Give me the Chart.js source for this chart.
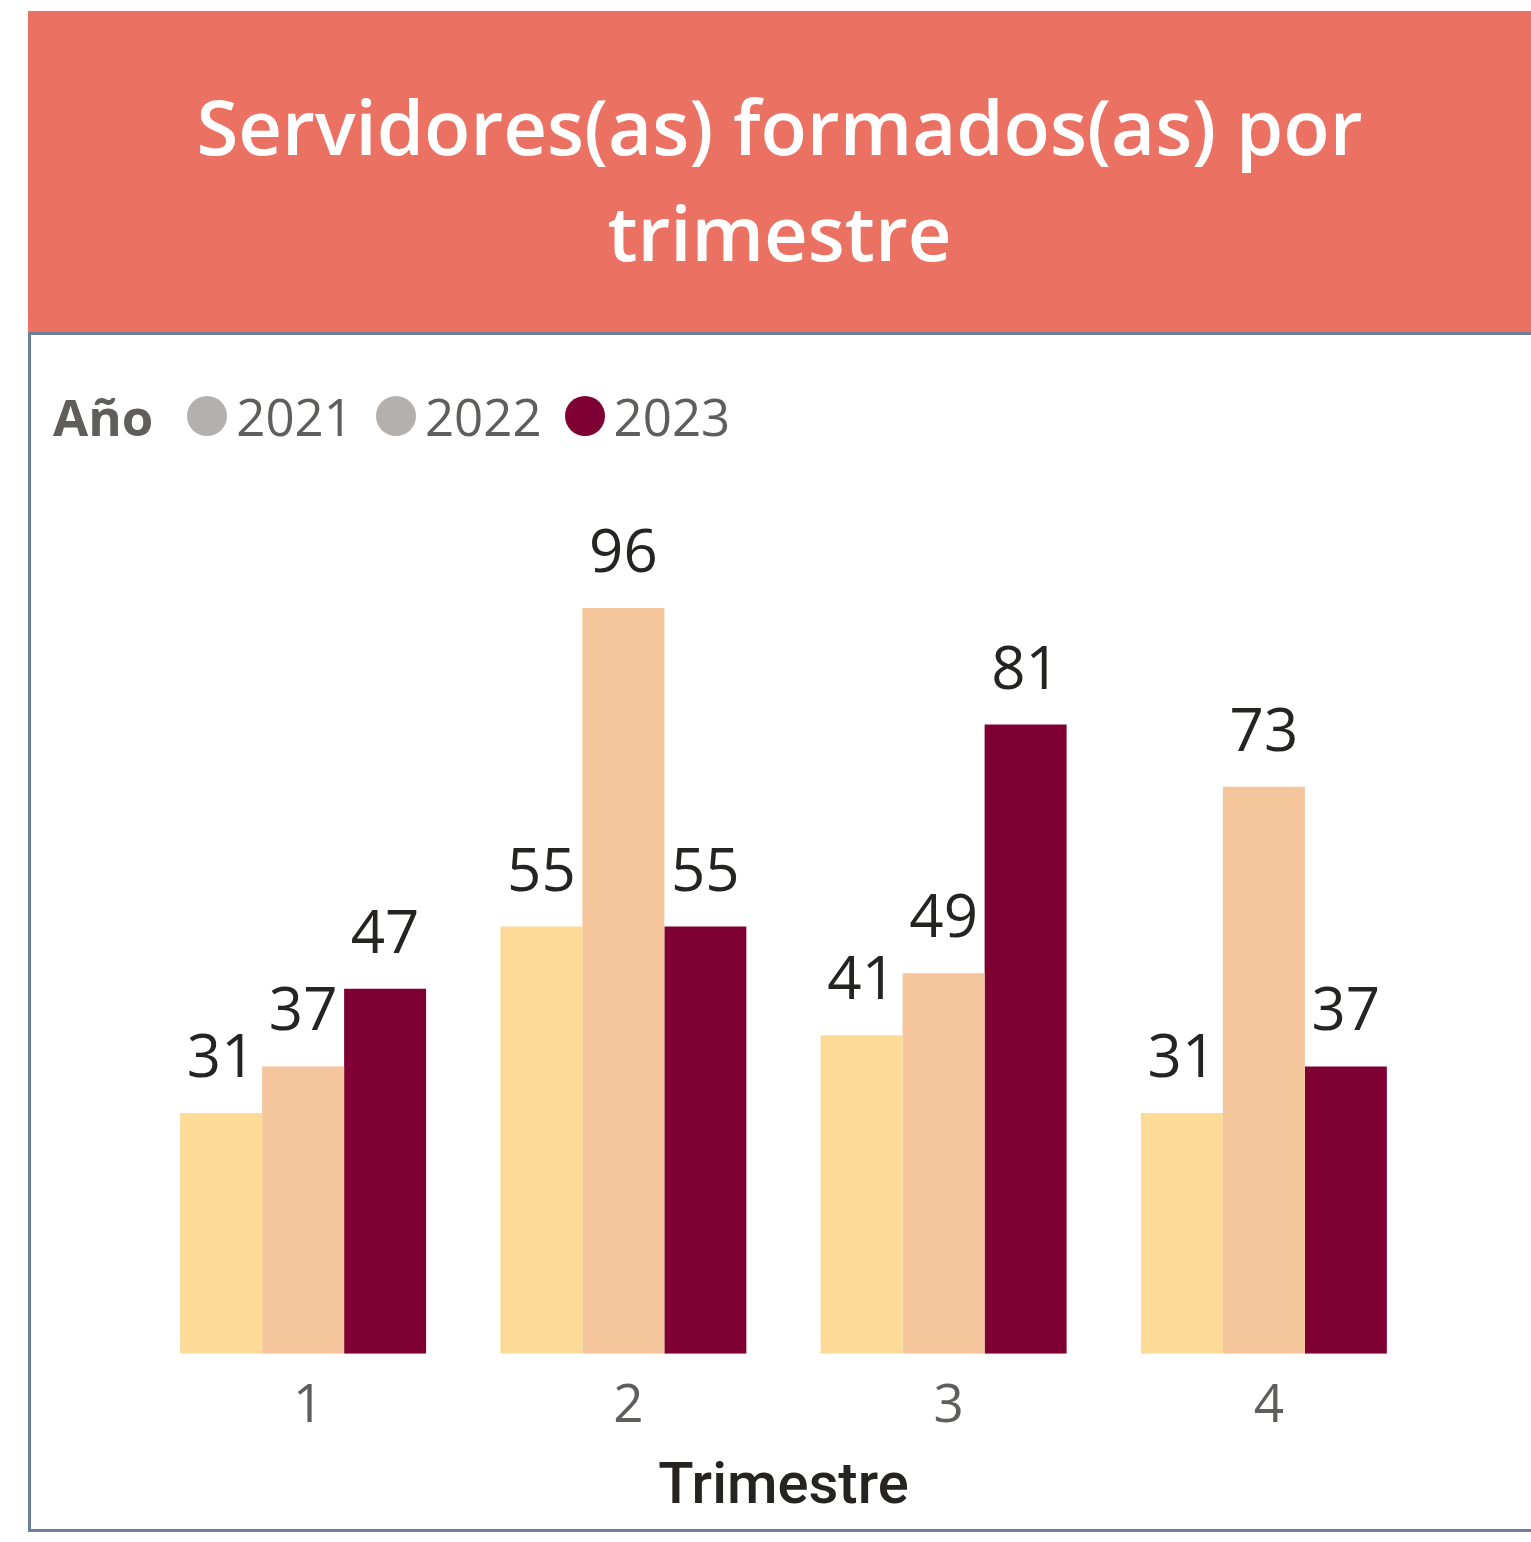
<!DOCTYPE html>
<html>
<head>
<meta charset="utf-8">
<script src="https://cdn.jsdelivr.net/npm/chart.js@4.4.0/dist/chart.umd.min.js"></script>
<style>
  body { margin: 0; background: #fff; width: 1531px; height: 1542px; position: relative; overflow: hidden; font-family: "Open Sans", sans-serif; }
  #header { position: absolute; left: 28px; top: 11px; width: 1503px; height: 321px; background: #EB7262; }
  #title { position: absolute; left: 0; top: 62px; width: 100%; text-align: center; color: #fff; font-weight: 600; font-size: 76px; line-height: 106px; }
  #frame { position: absolute; left: 28px; top: 332px; width: 1530px; height: 1200px; border: 3px solid #6E7F99; box-sizing: border-box; }
  #legend { position: absolute; left: 53px; top: 386px; height: 60px; display: flex; align-items: center; color: #605E5C; font-size: 51px; }
  #legend .head { font-weight: 700; margin-right: 34px; }
  #legend .dot { width: 40px; height: 40px; border-radius: 50%; margin-right: 9px; }
  #legend .item { display: flex; align-items: center; margin-right: 23px; }
  canvas { position: absolute; left: 0; top: 0; }
</style>
</head>
<body>
<div id="header"><div id="title">Servidores(as) formados(as) por<br>trimestre</div></div>
<div id="frame"></div>
<div id="legend"><span class="head">Año</span></div>
<canvas id="chart" width="1531" height="1542"></canvas>
<script>
const quarters = ["1", "2", "3", "4"];
const years = ["2021", "2022", "2023"];
const values2021 = [31, 55, 41, 31];
const values2022 = [37, 96, 49, 73];
const values2023 = [47, 55, 81, 37];
const barColors = ["#FDDA96", "#F5C59B", "#7F0033"];
const legendColors = ["#B3B0AD", "#B3B0AD", "#7F0033"];

// legend
const legend = document.getElementById("legend");
years.forEach(function (y, i) {
    const item = document.createElement("span");
    item.className = "item";
    item.innerHTML = '<span class="dot" style="background:' + legendColors[i] + '"></span>' + y;
    legend.appendChild(item);
});

// value labels above bars
const valueLabels = {
    id: "valueLabels",
    afterDatasetsDraw(chart) {
        const ctx = chart.ctx;
        ctx.save();
        ctx.font = '60px "Open Sans"';
        ctx.fillStyle = "#252423";
        ctx.textAlign = "center";
        ctx.textBaseline = "alphabetic";
        chart.data.datasets.forEach(function (ds, i) {
            chart.getDatasetMeta(i).data.forEach(function (bar, j) {
                ctx.fillText(ds.data[j], bar.x, bar.y - 36);
            });
        });
        ctx.restore();
    }
};

const seriesValues = [values2021, values2022, values2023];

new Chart(document.getElementById("chart").getContext("2d"), {
    type: "bar",
    data: {
        labels: quarters,
        datasets: years.map(function (y, i) {
            return {
                label: y,
                data: seriesValues[i],
                backgroundColor: barColors[i],
                borderWidth: 0,
                categoryPercentage: 0.768,
                barPercentage: 1
            };
        })
    },
    options: {
        responsive: false,
        animation: false,
        layout: { padding: { left: 143, right: 107, top: 577, bottom: 15 } },
        plugins: {
            legend: { display: false },
            tooltip: { enabled: false }
        },
        scales: {
            x: {
                grid: { display: false, drawTicks: false },
                border: { display: false },
                ticks: { color: "#605E5C", padding: 21, labelOffset: 5, font: { family: "Open Sans", size: 53 } },
                title: {
                    display: true,
                    text: "Trimestre",
                    color: "#252423",
                    font: { family: "Roboto", size: 58, weight: "500" },
                    padding: { top: -6, bottom: 4 }
                }
            },
            y: { display: false, min: 0, max: 100 }
        }
    },
    plugins: [valueLabels]
});
</script>
</body>
</html>
